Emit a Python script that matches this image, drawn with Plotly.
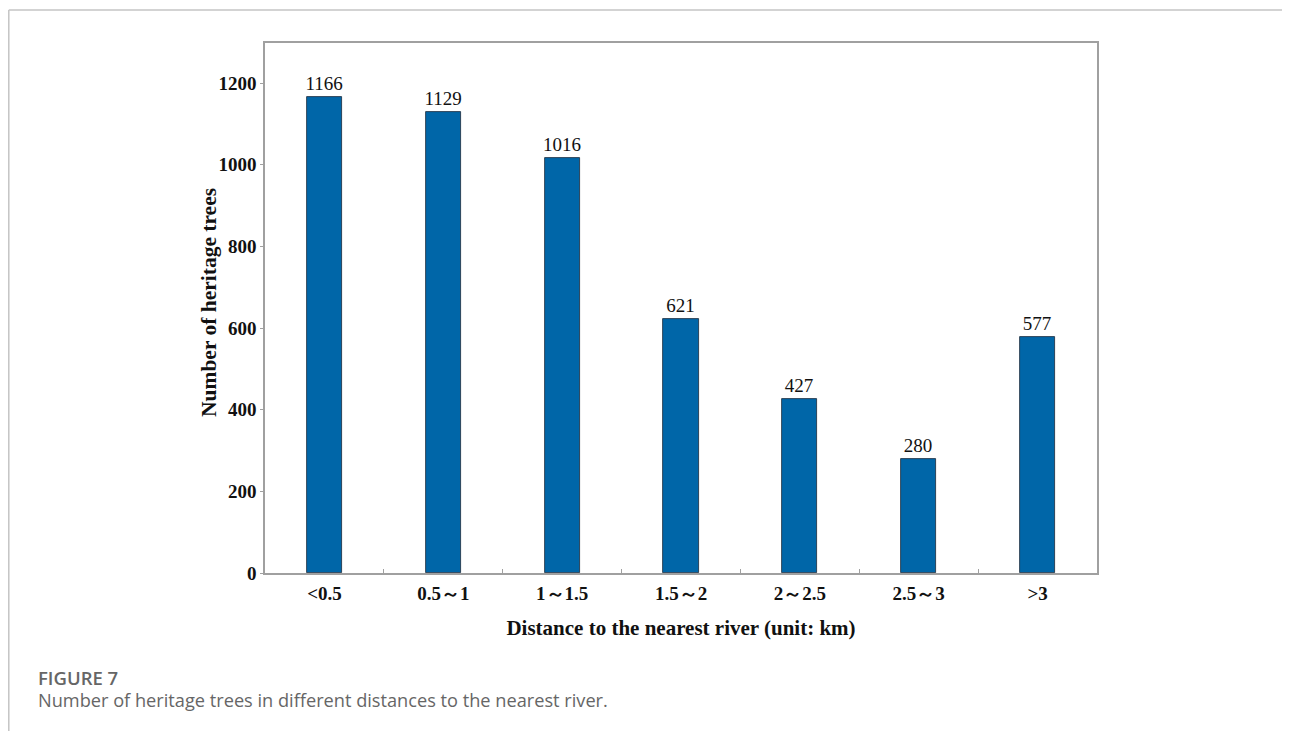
import plotly.graph_objects as go

categories = ["<0.5", "0.5～1", "1～1.5", "1.5～2", "2～2.5", "2.5～3", ">3"]
counts = [1166, 1129, 1016, 621, 427, 280, 577]
y_ticks = [0, 200, 400, 600, 800, 1000, 1200]

OFF = 8  # default page body margin
W, H = 1290 - OFF, 731 - OFF
L, R, T, B = 265 - OFF, 1097 - OFF, 43 - OFF, 573 - OFF

x_idx = list(range(len(categories)))

fig = go.Figure()
fig.add_trace(go.Bar(
    x=x_idx, y=counts, width=0.295,
    marker=dict(color="#0066A8", line=dict(color="#1a2a3a", width=0.8)),
    text=[str(v) for v in counts], textposition="outside", constraintext="none",
    textfont=dict(family="Liberation Serif", size=19, color="#111"),
    cliponaxis=False,
))

axis_line = "#a0a0a0"
fig.update_layout(
    width=W, height=H,
    margin=dict(l=L, r=W - R, t=T, b=H - B, pad=0),
    paper_bgcolor="white", plot_bgcolor="white",
    showlegend=False,
    bargap=0,
    xaxis=dict(
        range=[-0.5, len(categories) - 0.5],
        tickmode="array", tickvals=x_idx, ticktext=[f"<b>{c}</b>" for c in categories],
        ticks="", showgrid=False, zeroline=False,
        showline=True, linecolor=axis_line, linewidth=1.5, mirror=True,
        tickfont=dict(family="Liberation Serif", size=19, color="#111"),
        ticklabelstandoff=2,
        minor=dict(tickmode="array", tickvals=[i + 0.5 for i in x_idx[:-1]],
                   ticks="inside", ticklen=4, tickcolor=axis_line, tickwidth=1, showgrid=False),
        title=dict(text="<b>Distance to the nearest river (unit: km)</b>",
                   font=dict(family="Liberation Serif", size=21, color="#111"), standoff=18),
    ),
    yaxis=dict(
        range=[0, 1298],
        tickmode="array", tickvals=y_ticks, ticktext=[f"<b>{v}</b>" for v in y_ticks],
        ticks="outside", ticklen=3, tickcolor=axis_line, tickwidth=1,
        showgrid=False, zeroline=False,
        showline=True, linecolor=axis_line, linewidth=1.5, mirror=True,
        tickfont=dict(family="Liberation Serif", size=19, color="#111"),
    ),
)

def px_x(x):
    return (x - OFF - L) / (R - L)

def px_y(y):
    return (B - (y - OFF)) / (B - T)

fig.add_annotation(xref="paper", yref="paper", x=px_x(209), y=px_y(303),
                   xanchor="center", yanchor="middle", showarrow=False, textangle=-90,
                   text="<b>Number of heritage trees</b>",
                   font=dict(family="Liberation Serif", size=21.5, color="#111"))

border = "#c4c4c4"
fig.add_shape(type="line", xref="paper", yref="paper",
              x0=px_x(8.8), x1=px_x(1290), y0=px_y(10), y1=px_y(10),
              line=dict(color=border, width=1.5))
fig.add_shape(type="line", xref="paper", yref="paper",
              x0=px_x(8.8), x1=px_x(8.8), y0=px_y(10), y1=px_y(731),
              line=dict(color=border, width=1.5))

fig.add_annotation(xref="paper", yref="paper", x=px_x(36), y=px_y(677),
                   xanchor="left", yanchor="middle", showarrow=False,
                   text="FIGURE 7",
                   font=dict(family="Open Sans", size=18.5, color="#666666", weight=600))
fig.add_annotation(xref="paper", yref="paper", x=px_x(36), y=px_y(700),
                   xanchor="left", yanchor="middle", showarrow=False,
                   text="Number of heritage trees in different distances to the nearest river.",
                   font=dict(family="Open Sans", size=18.2, color="#666666"))

fig.write_html("out.html")
